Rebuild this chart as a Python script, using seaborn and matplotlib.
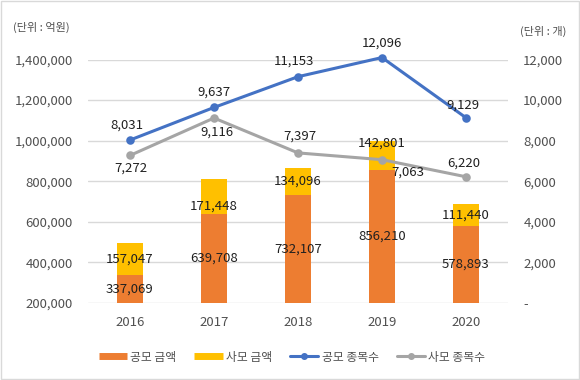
import matplotlib
matplotlib.use("Agg")
import matplotlib.pyplot as plt
import seaborn as sns
import pandas as pd
from matplotlib.lines import Line2D
from matplotlib.ticker import FuncFormatter

# ----------------------------------------------------------
# Dati
# ----------------------------------------------------------
years = ["2016", "2017", "2018", "2019", "2020"]
public_amount = [337069, 639708, 732107, 856210, 578893]    # 공모 금액 (억원)
private_amount = [157047, 171448, 134096, 142801, 111440]   # 사모 금액 (억원)
public_count = [8031, 9637, 11153, 12096, 9129]             # 공모 종목수
private_count = [7272, 9116, 7397, 7063, 6220]              # 사모 종목수

ORANGE = "#ED7D31"
YELLOW = "#FFC000"
BLUE = "#4472C4"
GRAY = "#A5A5A5"
GRID = "#D9D9D9"
TXT = "#505050"

sns.set_theme(style="white")
plt.rcParams["font.family"] = ["Noto Sans CJK KR", "DejaVu Sans"]

df = pd.DataFrame({
    "year": years,
    "public": public_amount,
    "total": [a + b for a, b in zip(public_amount, private_amount)],
    "pub_cnt": public_count,
    "priv_cnt": private_count,
})

fig = plt.figure(figsize=(5.8, 3.8), dpi=100)
ax = fig.add_axes([88 / 580, 1 - 303 / 380, 420 / 580, (303 - 59.5) / 380])

# barre impilate: totale (giallo) poi pubblico (arancio) sopra
sns.barplot(data=df, x="year", y="total", color=YELLOW, width=0.31,
            saturation=1, linewidth=0, ax=ax, zorder=2)
sns.barplot(data=df, x="year", y="public", color=ORANGE, width=0.31,
            saturation=1, linewidth=0, ax=ax, zorder=3)

ax.set_ylim(200000, 1400000)
ax.set_yticks(range(200000, 1400001, 200000))
ax.yaxis.set_major_formatter(FuncFormatter(lambda v, p: f"{int(v):,}"))
ax.set_xlim(-0.5, 4.5)
ax.yaxis.grid(True, color=GRID, lw=1)
ax.set_axisbelow(True)
for s in ax.spines.values():
    s.set_visible(False)
ax.tick_params(axis="both", length=0, labelsize=9.5, colors=TXT)
ax.tick_params(axis="y", pad=11)
ax.tick_params(axis="x", pad=9)
ax.set_xlabel("")
ax.set_ylabel("")

# etichette barre
priv_offsets = [0, -10, 0, 12, 0]
for i in range(len(years)):
    ax.annotate(f"{public_amount[i]:,}", (i, public_amount[i] / 2 + 100000),
                ha="center", va="center", fontsize=9.5, color="#202020", zorder=5)
    mid = public_amount[i] + private_amount[i] / 2
    ax.annotate(f"{private_amount[i]:,}", (i, mid), xytext=(0, priv_offsets[i] * 0.72),
                textcoords="offset points", ha="center", va="center",
                fontsize=9.5, color="#202020", zorder=5)

# linee sull'asse destro
ax2 = ax.twinx()
sns.pointplot(data=df, x="year", y="priv_cnt", color=GRAY, ax=ax2,
              markers="o", markersize=4.5, linewidth=2.2)
sns.pointplot(data=df, x="year", y="pub_cnt", color=BLUE, ax=ax2,
              markers="o", markersize=4.5, linewidth=2.2)
for art in ax2.lines + ax2.collections:
    art.set_clip_on(False)
ax2.set_ylim(0, 12000)
ax2.set_yticks(range(0, 12001, 2000))
ax2.yaxis.set_major_formatter(FuncFormatter(lambda v, p: "-" if v == 0 else f"{int(v):,}"))
ax2.set_xlim(-0.5, 4.5)
for s in ax2.spines.values():
    s.set_visible(False)
ax2.tick_params(axis="both", length=0, labelsize=9.5, colors=TXT)
ax2.tick_params(axis="y", pad=11)
ax2.set_ylabel("")
ax2.set_xlabel("")
ax2.grid(False)

pub_off = [(-3, 15), (0, 15), (-4, 16), (0, 14), (-3, 13)]
priv_off = [(1, -13), (3, -14), (2, 17), (26, -12), (-2, 14)]
for i in range(len(years)):
    dx, dy = pub_off[i]
    ax2.annotate(f"{public_count[i]:,}", (i, public_count[i]), xytext=(dx * 0.72, dy * 0.72),
                 textcoords="offset points", ha="center", va="center",
                 fontsize=9.5, color="#202020", annotation_clip=False)
    dx, dy = priv_off[i]
    ax2.annotate(f"{private_count[i]:,}", (i, private_count[i]), xytext=(dx * 0.72, dy * 0.72),
                 textcoords="offset points", ha="center", va="center",
                 fontsize=9.5, color="#202020", annotation_clip=False)

# unità
fig.text(13 / 580, 1 - 27 / 380, "(단위 : 억원)", fontsize=8, color=TXT, va="center")
fig.text(520 / 580, 1 - 31 / 380, "(단위 : 개)", fontsize=8, color=TXT, va="center")

# legenda
handles = [
    Line2D([0], [0], color=ORANGE, lw=5, solid_capstyle="butt"),
    Line2D([0], [0], color=YELLOW, lw=5, solid_capstyle="butt"),
    Line2D([0], [0], color=BLUE, lw=2.2, marker="o", markersize=4),
    Line2D([0], [0], color=GRAY, lw=2.2, marker="o", markersize=4),
]
labels = ["공모 금액", "사모 금액", "공모 종목수", "사모 종목수"]
fig.legend(handles, labels, loc="center", bbox_to_anchor=(292 / 580, 1 - 357 / 380),
           ncol=4, frameon=False, fontsize=8.5, handlelength=2.4,
           handletextpad=0.3, columnspacing=1.5, labelcolor=TXT)

# cornice
fig.patches.append(plt.Rectangle((0.001, 0.003), 0.998, 0.995, transform=fig.transFigure,
                                 fill=False, edgecolor=GRID, lw=1))

fig.savefig("out.png", dpi=100)
